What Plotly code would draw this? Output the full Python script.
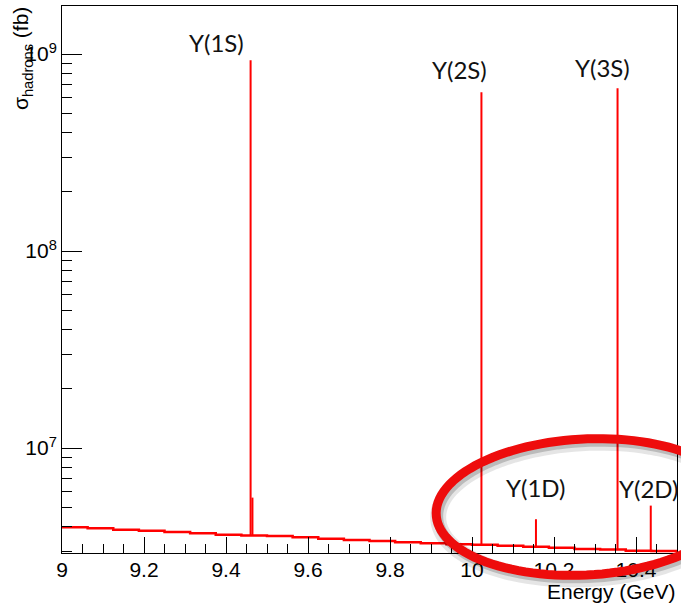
import numpy as np
import plotly.graph_objects as go

# Continuum: hadronic cross section per 62.5 MeV bin (fb)
bin_edges = [9.0, 9.0625, 9.125, 9.1875, 9.25, 9.3125, 9.375, 9.4375, 9.5,
             9.5625, 9.625, 9.6875, 9.75, 9.8125, 9.875, 9.9375, 10.0,
             10.0625, 10.125, 10.1875, 10.25, 10.3125, 10.375, 10.4375, 10.5]
continuum = [3.96e6, 3.91e6, 3.85e6, 3.80e6, 3.75e6, 3.69e6, 3.63e6, 3.60e6,
             3.57e6, 3.52e6, 3.46e6, 3.41e6, 3.37e6, 3.32e6, 3.28e6, 3.25e6,
             3.23e6, 3.19e6, 3.15e6, 3.12e6, 3.07e6, 3.05e6, 3.01e6, 3.00e6]

# Resonance peaks (mass in GeV, peak cross section in fb)
res_names = ["Y(1S)", "Y(2S)", "Y(3S)", "Y(1D)", "Y(2D)"]
res_mass = [9.460, 10.023, 10.355, 10.156, 10.436]
res_peak = [9.3e8, 6.4e8, 6.7e8, 4.35e6, 5.1e6]

# Small side spike next to the Y(1S)
shoulder_mass = 9.4645
shoulder_peak = 5.6e6

# Label anchor points (energy in GeV, log10 of cross section)
label_x = [9.377, 9.970, 10.319, 10.156, 10.431]
label_logy = [9.056, 8.919, 8.929, 6.797, 6.792]

# Decade tick labels on the cross-section axis
y_tick_vals = [1e7, 1e8, 1e9]
y_tick_text = ["10<sup>7</sup>", "10<sup>8</sup>", "10<sup>9</sup>"]

RED = "#ff0000"


def base_at(m):
    for i in range(len(continuum)):
        if bin_edges[i] <= m < bin_edges[i + 1]:
            return continuum[i]
    return continuum[-1]


fig = go.Figure()

# step histogram for the continuum
fig.add_trace(go.Scatter(
    x=bin_edges, y=continuum + [continuum[-1]],
    mode="lines", line=dict(color=RED, width=2.5, shape="hv"),
    showlegend=False, hoverinfo="skip"))

# narrow resonance spikes
for m, p in zip(res_mass, res_peak):
    b = base_at(m)
    fig.add_trace(go.Scatter(
        x=[m, m], y=[b, p], mode="lines",
        line=dict(color=RED, width=2), showlegend=False, hoverinfo="skip"))

b = base_at(shoulder_mass)
fig.add_trace(go.Scatter(
    x=[shoulder_mass, shoulder_mass], y=[b, shoulder_peak], mode="lines",
    line=dict(color=RED, width=2), showlegend=False, hoverinfo="skip"))

# resonance labels
for name, lx, ly in zip(res_names, label_x, label_logy):
    fig.add_annotation(x=lx, y=ly, xref="x", yref="y", text=name,
                       showarrow=False, xanchor="center", yanchor="middle",
                       font=dict(family="Lato", size=24, color="#111111"))

# plot-area geometry in pixels, used for the highlight ellipse
W, H = 681, 603
ML, MR, MT, MB = 62, 4, 6, 50
PW, PH = W - ML - MR, H - MT - MB


def ellipse_path(cx, cy, a, b, tilt_deg, dx=0.0, dy=0.0, n=120):
    t = np.linspace(0, 2 * np.pi, n)
    ph = np.radians(tilt_deg)
    px = cx + dx + a * np.cos(t) * np.cos(ph) - b * np.sin(t) * np.sin(ph)
    py = cy + dy + a * np.cos(t) * np.sin(ph) + b * np.sin(t) * np.cos(ph)
    ux = (px - ML) / PW
    uy = (H - MB - py) / PH
    pts = " L ".join(f"{x:.5f},{y:.5f}" for x, y in zip(ux, uy))
    return "M " + pts + " Z"


ell = dict(cx=585, cy=507, a=149, b=68, tilt_deg=-3)
# soft drop shadow
fig.add_shape(type="path", xref="paper", yref="paper", layer="above",
              path=ellipse_path(**ell, dx=2, dy=4),
              line=dict(color="rgba(0,0,0,0.10)", width=16))
fig.add_shape(type="path", xref="paper", yref="paper", layer="above",
              path=ellipse_path(**ell, dx=2, dy=3),
              line=dict(color="rgba(0,0,0,0.18)", width=10))
fig.add_shape(type="path", xref="paper", yref="paper", layer="above",
              path=ellipse_path(**ell),
              line=dict(color="#ee0c0c", width=9))

# axis titles
fig.add_annotation(xref="paper", yref="paper", x=1.0, y=-0.046,
                   xanchor="right", yanchor="top", showarrow=False,
                   text="Energy (GeV)",
                   font=dict(family="Liberation Sans", size=21, color="black"))
fig.add_annotation(xref="paper", yref="paper", x=-0.064, y=1.002,
                   xanchor="center", yanchor="top", showarrow=False,
                   textangle=-90, text="σ<sub>hadrons</sub> (fb)",
                   font=dict(family="Liberation Sans", size=21, color="black"))

minor_y = [m * 10.0 ** e for e in range(6, 10) for m in range(2, 10)]

fig.update_layout(
    width=W, height=H,
    margin=dict(l=ML, r=MR, t=MT, b=MB, autoexpand=False),
    paper_bgcolor="white", plot_bgcolor="white",
    showlegend=False,
    xaxis=dict(range=[9, 10.5], showgrid=False, zeroline=False,
               automargin=False,
               showline=True, linecolor="black", linewidth=1, mirror=True,
               ticks="inside", ticklen=16, tickwidth=1, tickcolor="black",
               tick0=9, dtick=0.2, ticklabelstandoff=-2,
               minor=dict(ticks="inside", ticklen=9, dtick=0.05,
                          tickcolor="black", tickwidth=1, showgrid=False),
               tickfont=dict(family="Liberation Sans", size=21, color="black")),
    yaxis=dict(type="log", range=[6.467, 9.2437], showgrid=False,
               zeroline=False, automargin=False,
               showline=True, linecolor="black", linewidth=1,
               mirror=True, ticks="inside", ticklen=20, tickwidth=1,
               tickcolor="black", tickmode="array",
               tickvals=y_tick_vals, ticktext=y_tick_text,
               minor=dict(ticks="inside", ticklen=10, tickmode="array",
                          tickvals=minor_y, tickcolor="black", tickwidth=1,
                          showgrid=False),
               tickfont=dict(family="Liberation Sans", size=21, color="black")),
)

fig.write_html("out.html")
